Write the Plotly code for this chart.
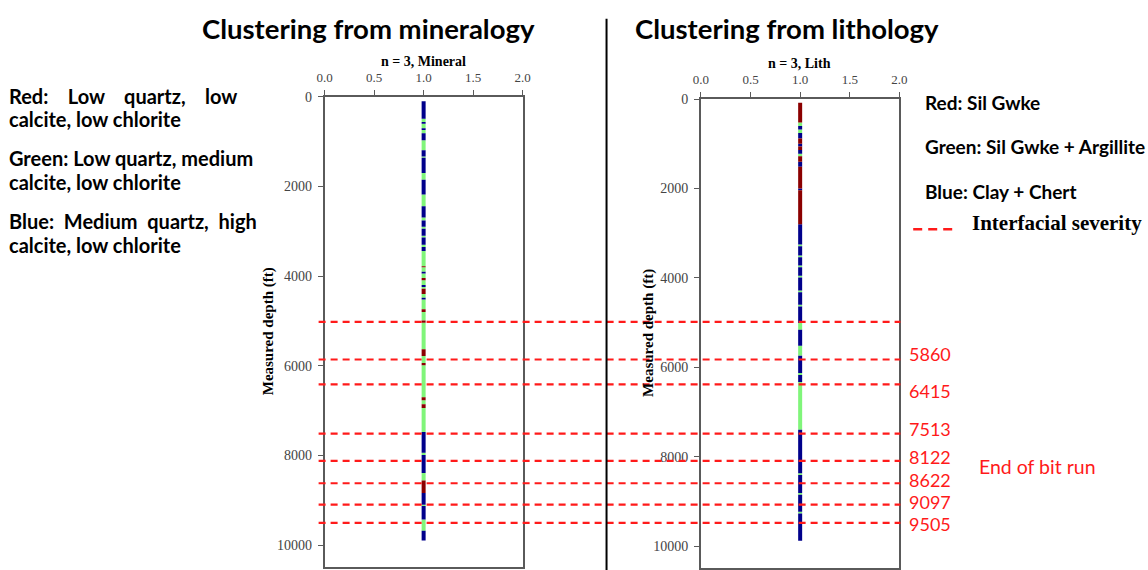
import plotly.graph_objects as go

W, H = 1148, 570

# ---- cluster intervals along the well (depth in ft) ----
# Mineralogy clusters: top, bottom, cluster
min_top = [100, 490, 560, 600, 700, 740, 810, 970, 1190, 1330, 1360, 1700, 1850, 2180, 2440,
           2690, 2760, 2900, 2940, 3100, 3140, 3300, 3350, 3440, 3780, 3800, 3900, 3940, 4040,
           4090, 4200, 4240, 4280, 4400, 4480, 4520, 4740, 4800, 4990, 5040, 5630, 5780, 5940,
           5990, 6700, 6770, 6860, 6940, 7480, 7940, 7990, 8390, 8560, 8840, 9100, 9130, 9430,
           9680]
min_bot = [490, 560, 600, 700, 740, 810, 970, 1190, 1330, 1360, 1700, 1850, 2180, 2440, 2690,
           2760, 2900, 2940, 3100, 3140, 3300, 3350, 3440, 3780, 3800, 3900, 3940, 4040, 4090,
           4200, 4240, 4280, 4400, 4480, 4520, 4740, 4800, 4990, 5040, 5630, 5780, 5940, 5990,
           6700, 6770, 6860, 6940, 7480, 7940, 7990, 8390, 8560, 8840, 9100, 9130, 9430, 9680,
           9900]
min_cls = ["B", "G", "B", "G", "B", "G", "B", "G", "B", "G", "B", "G", "B", "G", "B",
           "G", "B", "G", "B", "G", "B", "G", "B", "G", "R", "G", "B", "G", "R",
           "G", "B", "G", "R", "G", "B", "G", "R", "G", "R", "G", "R", "G", "R",
           "G", "R", "G", "R", "G", "B", "G", "B", "G", "R", "B", "G", "B", "G",
           "B"]

# Lithology clusters: top, bottom, cluster
lith_top = [80, 520, 600, 680, 760, 880, 1000, 1060, 1140, 1220, 1280, 1400, 1510, 2000, 2040,
            2800, 3250, 3290, 3500, 3540, 3720, 3760, 3950, 3990, 4280, 4320, 4600, 4640, 5010,
            5160, 5520, 5740, 6130, 6170, 6330, 7400, 8370, 8410, 8810, 8850, 9230, 9270]
lith_bot = [520, 600, 680, 760, 880, 1000, 1060, 1140, 1220, 1280, 1400, 1510, 2000, 2040, 2800,
            3250, 3290, 3500, 3540, 3720, 3760, 3950, 3990, 4280, 4320, 4600, 4640, 5010, 5160,
            5520, 5740, 6130, 6170, 6330, 7400, 8370, 8410, 8810, 8850, 9230, 9270, 9880]
lith_cls = ["R", "G", "B", "G", "B", "R", "B", "R", "B", "G", "R", "B", "R", "B", "R",
            "B", "G", "B", "G", "B", "G", "B", "G", "B", "G", "B", "G", "B", "G",
            "B", "G", "B", "G", "B", "G", "B", "G", "B", "G", "B", "G", "B"]

well_x = 1.0

# Interfacial severity depths (ft); the first one carries no label
severity_depths = [5020, 5860, 6415, 7513, 8122, 8622, 9097, 9505]
severity_labels = ["", "5860", "6415", "7513", "8122", "8622", "9097", "9505"]
label_shift = [0, 6, -7, 5, 4, 3, 3, -1]

depth_ticks = [0, 2000, 4000, 6000, 8000, 10000]
x_ticks = [0.0, 0.5, 1.0, 1.5, 2.0]

colors = {"R": "#8B0000", "G": "#80F57A", "B": "#00008B"}

fig = go.Figure()


def add_column(tops, bots, cls, xa, ya):
    for c in ["G", "B", "R"]:
        xs, ys = [], []
        for t, b, k in zip(tops, bots, cls):
            if k == c:
                xs += [well_x, well_x, None]
                ys += [t, b, None]
        fig.add_trace(go.Scatter(x=xs, y=ys, mode="lines", xaxis=xa, yaxis=ya,
                                 line=dict(color=colors[c], width=4),
                                 showlegend=False, hoverinfo="skip"))


add_column(min_top, min_bot, min_cls, "x", "y")
add_column(lith_top, lith_bot, lith_cls, "x2", "y2")

serif = "Liberation Serif"
sans = "Lato"
axis_col = "#5a5a5a"

xcommon = dict(range=[0, 2], side="top", tickvals=x_ticks, ticktext=[f"{v:.1f}" for v in x_ticks],
               ticks="outside", ticklen=5, tickwidth=1.2, tickcolor=axis_col, ticklabelstandoff=3,
               showline=True, linecolor=axis_col, linewidth=1.5, mirror=True,
               showgrid=False, zeroline=False,
               tickfont=dict(family=serif, size=13, color="#444444"))
ycommon = dict(range=[10480, 0], tickvals=depth_ticks, ticktext=[str(v) for v in depth_ticks],
               ticks="outside", ticklen=5, tickwidth=1.2, ticklabelstandoff=3,
               tickcolor=axis_col, showline=True, linecolor=axis_col, linewidth=1.5, mirror=True,
               showgrid=False, zeroline=False,
               tickfont=dict(family=serif, size=14, color="#444444"))

fig.update_layout(
    width=W, height=H,
    margin=dict(l=0, r=0, t=0, b=0),
    paper_bgcolor="white", plot_bgcolor="white",
    xaxis=dict(domain=[321 / W, 522 / W], anchor="y", **xcommon),
    yaxis=dict(domain=[1 - 566.5 / H, 1 - 91 / H], anchor="x", **ycommon),
    xaxis2=dict(domain=[702.7 / W, 904 / W], anchor="y2", **xcommon),
    yaxis2=dict(domain=[1 - 567.5 / H, 1 - 93.3 / H], anchor="x2", **ycommon),
)

shapes = []
# interfacial severity lines running across both tracks
for d in severity_depths:
    shapes.append(dict(type="line", xref="paper", yref="y", x0=315 / W, x1=905 / W, y0=d, y1=d,
                       line=dict(color="#FF1A1A", width=2.2, dash="7px,5px")))
# divider between the two panels
shapes.append(dict(type="line", xref="paper", yref="paper", x0=607 / W, x1=607 / W,
                   y0=0, y1=1 - 12 / H, line=dict(color="black", width=2)))
# severity legend sample
shapes.append(dict(type="line", xref="paper", yref="paper", x0=918 / W, x1=962 / W,
                   y0=1 - 225 / H, y1=1 - 225 / H,
                   line=dict(color="#FF1A1A", width=2.5, dash="9px,6px")))
fig.update_layout(shapes=shapes)

ann = []


def text(x, y, s, size, family=sans, color="black", xanchor="left", angle=0):
    ann.append(dict(x=x / W, y=1 - y / H, xref="paper", yref="paper", text=s, showarrow=False,
                    xanchor=xanchor, yanchor="middle", textangle=angle,
                    align="left" if xanchor == "left" else "center",
                    font=dict(family=family, size=size, color=color)))


# panel headings
text(366, 22, "<b>Clustering from mineralogy</b>", 27.5, xanchor="center")
text(790, 22, "<b>Clustering from lithology</b>", 27.5, xanchor="center")
text(421.5, 55, "<b>n = 3, Mineral</b>", 14, family=serif, xanchor="center")
text(803, 57, "<b>n = 3, Lith</b>", 14, family=serif, xanchor="center")
# depth axis titles
text(265, 328, "<b>Measured depth (ft)</b>", 15, family=serif, xanchor="center", angle=-90)
text(650, 330, "<b>Measured depth (ft)</b>", 15, family=serif, xanchor="center", angle=-90)

# mineralogy cluster key
nb = "\u00a0"
left_lines = [
    (90, f"Red:{nb*4}Low{nb*4}quartz,{nb*4}low"),
    (113, "calcite, low chlorite"),
    (153, "Green: Low quartz, medium"),
    (177, "calcite, low chlorite"),
    (217, f"Blue:{nb*2}Medium{nb*2}quartz,{nb*2}high"),
    (241, "calcite, low chlorite"),
]
for y, s in left_lines:
    text(-1, y, f"<b>{s}</b>", 20)

# lithology cluster key
text(928, 97, "<b>Red: Sil Gwke</b>", 19)
text(928, 141, "<b>Green: Sil Gwke + Argillite</b>", 19)
text(928, 187, "<b>Blue: Clay + Chert</b>", 19)
text(976, 219, "<b>Interfacial severity</b>", 21, family=serif)

# severity depth labels
for d, lab, sh in zip(severity_depths, severity_labels, label_shift):
    if lab:
        ann.append(dict(x=912 / W, y=d, xref="paper", yref="y", yshift=sh, text=lab,
                        showarrow=False, xanchor="left", yanchor="middle", align="left",
                        font=dict(family=sans, size=18, color="#FF1A1A")))
text(983, 465, "End of bit run", 19.5, color="#FF1A1A")

fig.update_layout(annotations=ann)

fig.write_html("out.html")
